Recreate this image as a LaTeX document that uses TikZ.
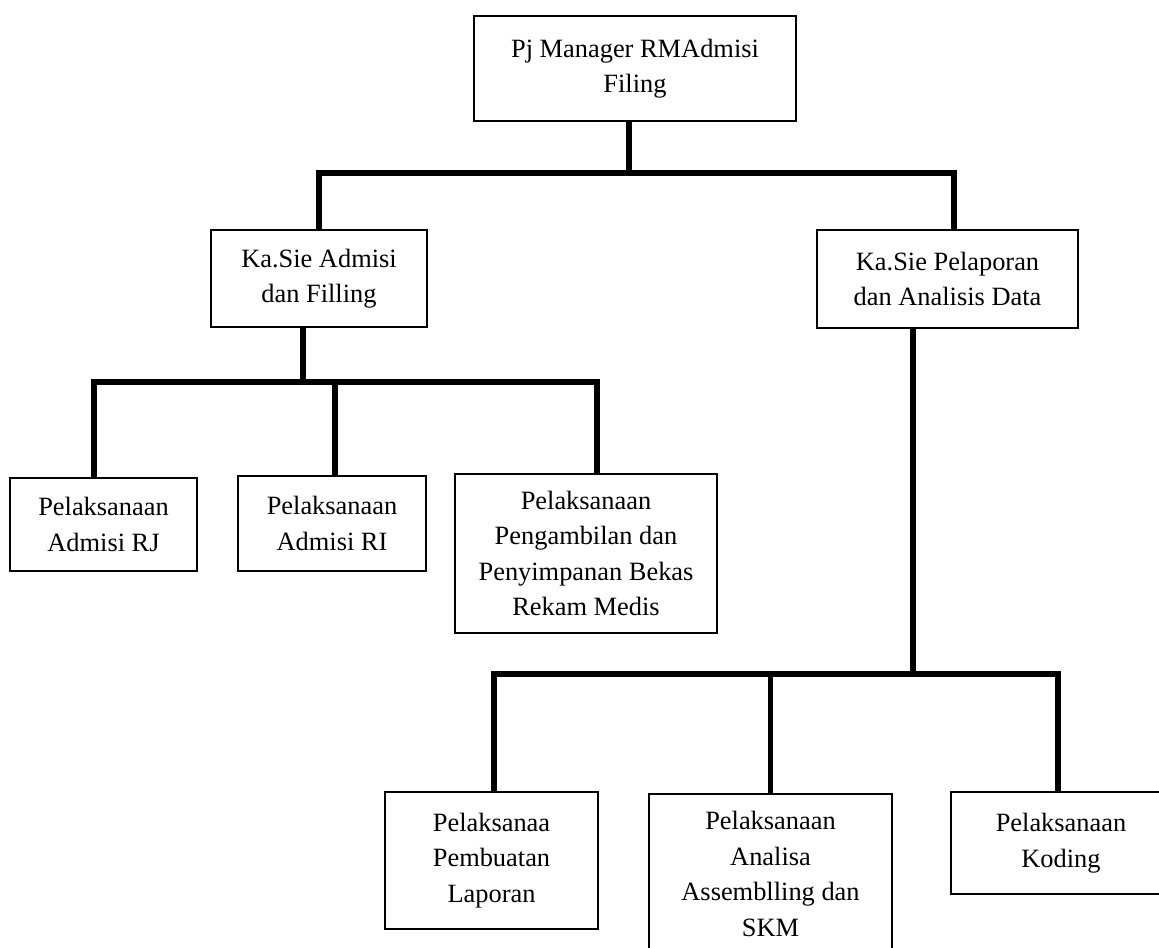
\documentclass[tikz,border=0pt]{standalone}
\usepackage{fontspec}
\setmainfont{Liberation Serif}
\usetikzlibrary{positioning}

\begin{document}
\begin{tikzpicture}[x=0.5pt,y=-0.5pt,font=\fontsize{13.2}{17.75}\selectfont]
    \tikzstyle{unit}=[draw,line width=1pt,align=center,inner sep=0pt,anchor=north west]
    \tikzstyle{link}=[line width=2.75pt]
    \useasboundingbox (0,0) rectangle (1159,947);

    % Draw the boxes of the structure.
    \node[unit,minimum width=161pt,minimum height=52.5pt] (pj) at (473,15) {Pj Manager RMAdmisi\\Filing};
    \node[unit,minimum width=108pt,minimum height=48.5pt] (adm) at (210,229) {Ka.Sie Admisi\\dan Filling};
    \node[unit,minimum width=130.5pt,minimum height=49pt] (kpl) at (816,229) {Ka.Sie Pelaporan\\dan Analisis Data};
    \node[unit,minimum width=93.5pt,minimum height=46.5pt] (rj) at (9,477) {Pelaksanaan\\Admisi RJ};
    \node[unit,minimum width=94pt,minimum height=47.5pt] (ri) at (237,475) {Pelaksanaan\\Admisi RI};
    \node[unit,minimum width=131pt,minimum height=79.5pt] (ambil) at (454,473) {Pelaksanaan\\Pengambilan dan\\Penyimpanan Bekas\\Rekam Medis};
    \node[unit,minimum width=106.5pt,minimum height=68.5pt] (lap) at (384,791) {Pelaksanaa\\Pembuatan\\Laporan};
    \node[unit,minimum width=121.5pt,minimum height=80pt] (asm) at (648,793) {Pelaksanaan\\Analisa\\Assemblling dan\\SKM};
    \node[unit,minimum width=110pt,minimum height=51pt] (kod) at (950,791) {Pelaksanaan\\Koding};

    % Junctions of the bars.
    \coordinate (j1) at (629,173);
    \coordinate (j2) at (303,382);
    \coordinate (j3) at (913,674);

    % Connect the manager with the two sections.
    \draw[link] (pj.south -| j1) -- (j1);
    \draw[link] (adm.north) |- (j1) -| ([xshift=3.25pt]kpl.north);

    % Connect the admission section with its units.
    \draw[link] (adm.south -| j2) -- (j2);
    \draw[link] ([xshift=-4.75pt]rj.north) |- (j2) -| ([xshift=5.5pt]ambil.north);
    \draw[link] ([xshift=1.5pt]ri.north) -- ([xshift=1.5pt]ri.north |- j2);

    % Connect the reporting section with its units.
    \draw[link] (kpl.south -| j3) -- (j3);
    \draw[link] ([xshift=1.25pt]lap.north) |- (j3) -| ([xshift=-1.5pt]kod.north);
    \draw[link] (asm.north) -- (asm.north |- j3);
\end{tikzpicture}
\end{document}
